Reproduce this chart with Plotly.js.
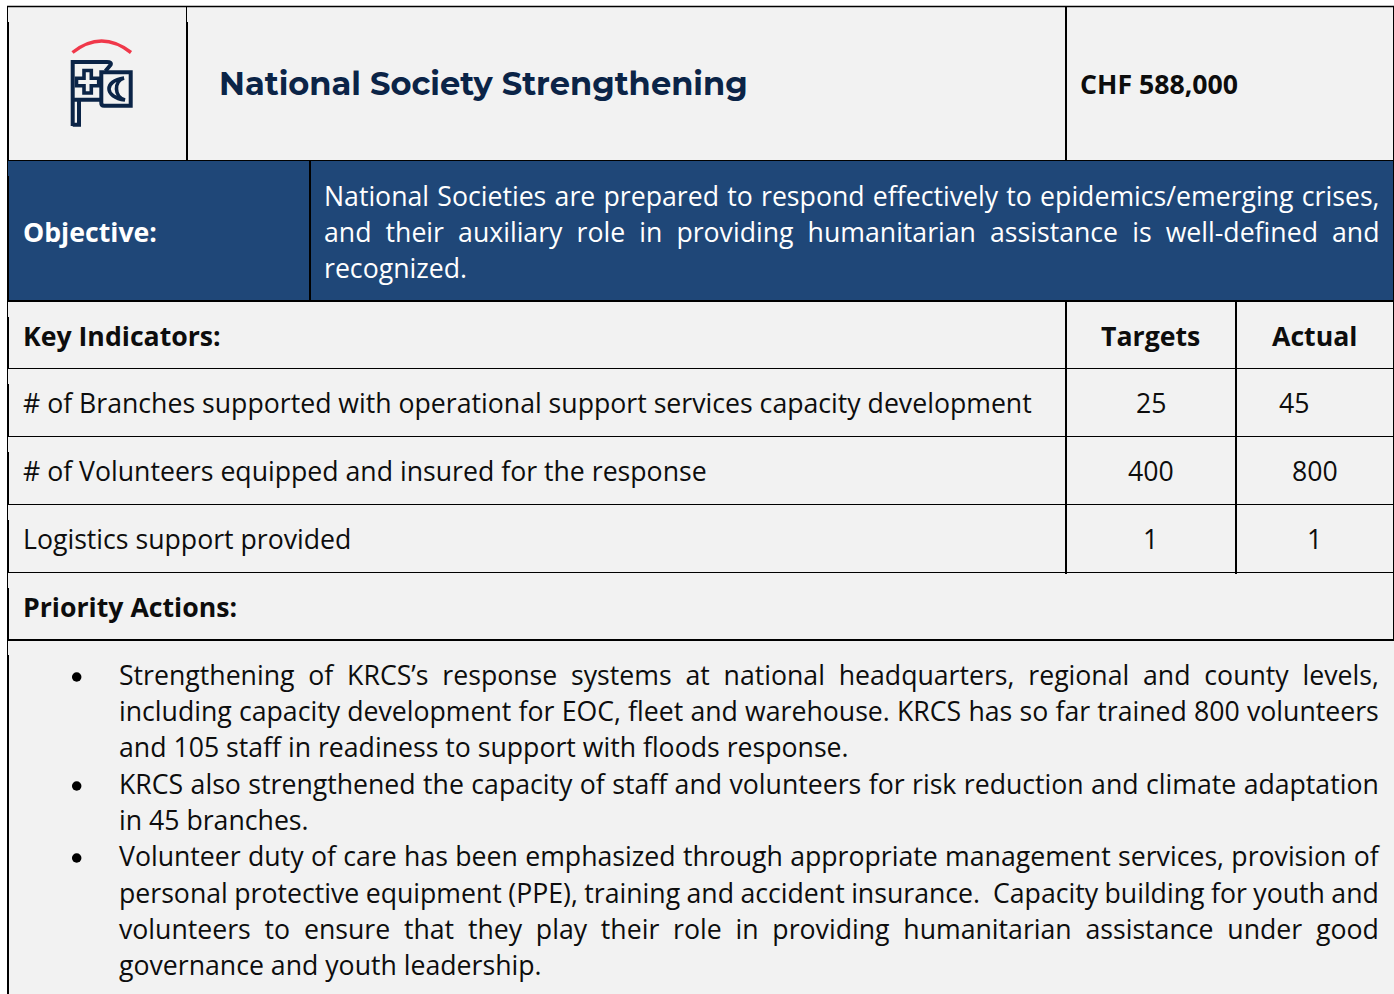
<!DOCTYPE html>
<html><head><meta charset="utf-8">
<script src="https://cdn.plot.ly/plotly-3.0.1.min.js"></script>
<style>html,body{margin:0;padding:0;background:#fff;overflow:hidden}#c{width:1394px;height:994px}</style>
</head><body><div id="c"></div>
<script>
const TITLE = "National Society Strengthening";
const BUDGET = "CHF 588,000";
const OBJECTIVE_LABEL = "Objective:";
const OBJECTIVE_LINES = [
  "National Societies are prepared to respond effectively to epidemics/emerging crises,",
  "and their auxiliary role in providing humanitarian assistance is well-defined and",
  "recognized."];
const HEADERS = ["Key Indicators:", "Targets", "Actual"];
const INDICATORS = [
  "# of Branches supported with operational support services capacity development",
  "# of Volunteers equipped and insured for the response",
  "Logistics support provided"];
const TARGETS = ["25", "400", "1"];
const ACTUALS = ["45", "800", "1"];
const PRIORITY_LABEL = "Priority Actions:";
const ACTION_LINES = [
  ["Strengthening of KRCS’s response systems at national headquarters, regional and county levels,", true],
  ["including capacity development for EOC, fleet and warehouse. KRCS has so far trained 800 volunteers", true],
  ["and 105 staff in readiness to support with floods response.", false],
  ["KRCS also strengthened the capacity of staff and volunteers for risk reduction and climate adaptation", true],
  ["in 45 branches.", false],
  ["Volunteer duty of care has been emphasized through appropriate management services, provision of", true],
  ["personal protective equipment (PPE), training and accident insurance.\u00a0 Capacity building for youth and", true],
  ["volunteers to ensure that they play their role in providing humanitarian assistance under good", true],
  ["governance and youth leadership.", false]];
const ACTION_Y = [675,711,747,784,820,856,893,929,965];
const BULLET_Y = [677,786,858];
const ROW_Y = [403,471,539];
const OBJ_Y = [196,232,268];

const FONT = "Open Sans, sans-serif";
const SZ = 26.67, DY = -1, DX = -1.5;
const BLACK = "#0d0d0d", NAVY = "#0b2447", BLUE = "#1f4778", BG = "#f2f2f2";
const just = [];
const ann = [];
function T(text,x,y,o){o=o||{};
  ann.push({text:text,x:o.a?x:x+DX,y:y+DY,xref:"x",yref:"y",showarrow:false,xanchor:o.a||"left",yanchor:"middle",align:o.a==="center"?"center":"left",
    borderpad:0,font:{family:o.f||FONT,size:o.s||SZ,color:o.c||BLACK,weight:o.w||400}});
  just.push(o.j||0);
}
T(TITLE,219.5,84,{f:"Montserrat, Inter, sans-serif",s:32.1,c:NAVY,w:700});
T(BUDGET,1080.5,84,{w:700});
T(OBJECTIVE_LABEL,23,232,{c:"#fff",w:700});
OBJECTIVE_LINES.forEach((t,i)=>T(t,324,OBJ_Y[i],{c:"#fff",j:i<2?1378:0}));
T(HEADERS[0],23,336.5,{w:700});
T(HEADERS[1],1150.3,336.5,{w:700,a:"center"});
T(HEADERS[2],1314.3,336.5,{w:700,a:"center"});
INDICATORS.forEach((t,i)=>{
  T(t,23,ROW_Y[i]);
  T(TARGETS[i],1150.6,ROW_Y[i],{a:"center"});
  T(ACTUALS[i],i===0?1293.6:1314.6,ROW_Y[i],{a:"center"});
});
T(PRIORITY_LABEL,23,607,{w:700});
ACTION_LINES.forEach((l,i)=>T(l[0],119,ACTION_Y[i],{j:l[1]?1377.3:0}));

function L(x0,y0,x1,y1,w,c){return {type:"line",xref:"x",yref:"y",x0,y0,x1,y1,line:{color:c||"#000",width:w},layer:"above"};}
function P(d,o){return Object.assign({type:"path",xref:"x",yref:"y",path:d,layer:"above"},o);}
const shapes = [
  {type:"rect",xref:"x",yref:"y",x0:8,x1:1393,y0:7,y1:640,fillcolor:BG,line:{width:0},layer:"below"},
  {type:"rect",xref:"x",yref:"y",x0:8,x1:1394,y0:640,y1:994,fillcolor:BG,line:{width:0},layer:"below"},
  {type:"rect",xref:"x",yref:"y",x0:8,x1:1394,y0:161,y1:301,fillcolor:BLUE,line:{width:0},layer:"below"},
  L(7,6.5,1394,6.5,1.5),
  L(7.5,6,7.5,994,1),
  L(8,22,8,160,2), L(8,176,8,301,2), L(8,317,8,368,2), L(8,384,8,436,2),
  L(8,452,8,504,2), L(8,520,8,572,2), L(8,588,8,640,2), L(8,655,8,994,2),
  L(1393.5,6,1393.5,640,1),
  L(186.5,7,186.5,160,1), L(187,22,187,160,2),
  L(1066,7,1066,160,2),
  L(310,161,310,301,2),
  L(7,160.5,1394,160.5,1),
  L(7,301,1394,301,2),
  L(7,368.5,1394,368.5,1),
  L(7,436.5,1394,436.5,1),
  L(7,504.5,1394,504.5,1),
  L(7,572.5,1394,572.5,1),
  L(7,640,1394,640,2),
  L(1066,301,1066,574,2),
  L(1236,301,1236,574,2),
  P("M72.5,52.5 Q101.5,29.5 131,52.5",{line:{color:"#f0384a",width:3.5}}),
  P("M72.7,126 L72.7,62 L107,62 Q112,62 110.5,65 L105.5,71 M72.7,99.7 L101,99.7 M72.7,124.7 L79,124.7 L79,99.7",{line:{color:NAVY,width:4}}),
  P("M101.3,72.3 L130.7,72.3 L130.7,105.7 L104,105.7 Q101.3,105.7 101.3,103 Z",{line:{color:NAVY,width:4}}),
  P("M84,70.5 L91.3,70.5 L91.3,78.3 L98.7,78.3 L98.7,85.7 L91.3,85.7 L91.3,93 L84,93 L84,85.7 L76.5,85.7 L76.5,78.3 L84,78.3 Z",{fillcolor:BG,line:{color:NAVY,width:3.6}}),
  P("M124,78 C103.8,81 103.8,97 125,100 C113.8,97 113.8,81 124,78 Z",{fillcolor:BG,line:{color:NAVY,width:3.6}})
];
const bullets = {type:"scatter",mode:"markers",x:BULLET_Y.map(()=>76.7),y:BULLET_Y,marker:{color:"#000",size:9.5,line:{width:0}},hoverinfo:"skip",showlegend:false};
const layout = {width:1394,height:994,margin:{l:0,r:0,t:0,b:0},paper_bgcolor:"#fff",plot_bgcolor:"rgba(0,0,0,0)",showlegend:false,
  xaxis:{range:[0,1394],visible:false,fixedrange:true},yaxis:{range:[994,0],visible:false,fixedrange:true},
  shapes:shapes,annotations:ann};
Plotly.newPlot("c",[bullets],layout,{staticPlot:true,displayModeBar:false}).then(function(gd){
  const nodes = gd.querySelectorAll(".annotation-text");
  nodes.forEach(function(n,i){
    if(!just[i]) return;
    const a = ann[i];
    const gaps = a.text.split(/[ \u00a0]/).length-1;
    const len = n.getComputedTextLength();
    n.style.wordSpacing = ((just[i]-a.x-len)/gaps)+"px";
  });
});
</script></body></html>
